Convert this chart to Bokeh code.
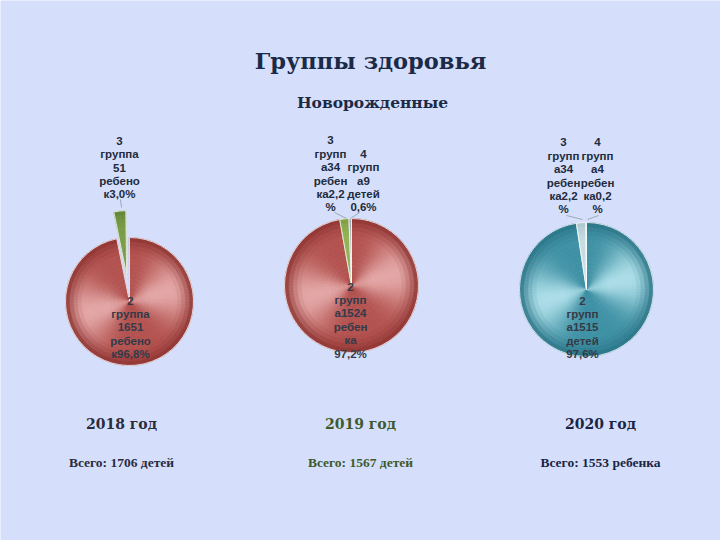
import numpy as np
from bokeh.plotting import figure
from bokeh.models import Range1d, ColumnDataSource
from bokeh.core.properties import value
from bokeh.embed import file_html
from bokeh.resources import INLINE

# ---------------- data ----------------
title = "Группы здоровья"
subtitle = "Новорожденные"
years = ["2018 год", "2019 год", "2020 год"]
totals = ["Всего: 1706 детей", "Всего: 1567 детей", "Всего: 1553 ребенка"]

shares_2018 = [96.8, 3.0]
shares_2019 = [97.2, 2.2, 0.6]
shares_2020 = [97.6, 2.2, 0.2]

labels_2018 = ["2\nгруппа\n1651\nребено\nк96,8%", "3\nгруппа\n51\nребено\nк3,0%"]
labels_2019 = ["2\nгрупп\nа1524\nребен\nка\n97,2%", "3\nгрупп\nа34\nребен\nка2,2\n%", "4\nгрупп\nа9\nдетей\n0,6%"]
labels_2020 = ["2\nгрупп\nа1515\nдетей\n97,6%", "3\nгрупп\nа34\nребен\nка2,2\n%", "4\nгрупп\nа4\nребен\nка0,2\n%"]

# ---------------- style / layout ----------------
W, H = 720, 540
BG = "#d5dffb"

def Y(y):
    return H - y

def hex2rgb(h):
    h = h.lstrip("#")
    return np.array([int(h[i:i + 2], 16) for i in (0, 2, 4)], dtype=float)

def to_hex(c):
    c = np.clip(np.round(c), 0, 255).astype(int)
    return "#%02x%02x%02x" % tuple(c)

# (rim, shadow, highlight) per slice style
RED = ("#8e3432", "#b3524f", "#e3a6a4")
TEAL = ("#2a7487", "#3f91a4", "#abdde7")
GREEN1 = ("#5f8436", "#7a9c48", "#a8c47a")
GREEN2 = ("#7d9e42", "#93b254", "#bcd48e")
GREY = ("#9aa4ac", "#b2bac0", "#d2d8dc")
PALE = ("#a9c6cd", "#c6dde2", "#e6f0f2")

pies = [
    dict(shares=shares_2018, labels=labels_2018, cx=129, cy=301, r=64,
         colors=[RED, GREEN1], explode=[0, 27]),
    dict(shares=shares_2019, labels=labels_2019, cx=351, cy=285, r=67,
         colors=[RED, GREEN2, GREY], explode=[0, 0, 0]),
    dict(shares=shares_2020, labels=labels_2020, cx=586, cy=289, r=67,
         colors=[TEAL, PALE, PALE], explode=[0, 0, 0]),
]

inner_pos = [(130, 294), (350, 280), (582, 294)]
outer_pos = [[(119, 200)], [(330, 213), (363, 213)], [(563, 215), (597, 215)]]
leaders = [
    [((120, 199), (121, 207))],
    [((334, 212), (346, 218)), ((359, 212), (350, 218))],
    [((566, 215), (582, 219)), ((598, 215), (587, 219))],
]

p = figure(width=W, height=H, output_backend="svg", toolbar_location=None,
           x_range=Range1d(0, W), y_range=Range1d(0, H), min_border=0,
           background_fill_color=BG, border_fill_color=BG, outline_line_color=None)
p.axis.visible = False
p.grid.visible = False

NR = 16         # radial shading rings
STEP = np.deg2rad(3.0)

for pie in pies:
    cum = np.concatenate([[0], np.cumsum(pie["shares"])]) / 100.0
    for i, share in enumerate(pie["shares"]):
        start = np.deg2rad(90 - 360 * cum[i + 1])
        end = np.deg2rad(90 - 360 * cum[i])
        mid = (start + end) / 2
        off = pie["explode"][i]
        cx = pie["cx"] + off * np.cos(mid)
        cy = Y(pie["cy"]) + off * np.sin(mid)
        rim, shadow, high = [hex2rgb(c) for c in pie["colors"][i]]
        R = pie["r"]
        nseg = max(1, int(np.ceil((end - start) / STEP)))
        edges = np.linspace(start, end, nseg + 1)
        xs, ys, ir, orr, sa, ea, cols = [], [], [], [], [], [], []
        for s in range(nseg):
            a0, a1 = edges[s], edges[s + 1]
            am = (a0 + a1) / 2
            f = 0.5 + 0.5 * np.cos(2 * (am - np.deg2rad(15)))
            base = shadow + (high - shadow) * (f ** 2.0)
            for k in range(NR):
                r0 = R * k / NR
                r1 = R * (k + 1) / NR
                rm = (r0 + r1) / 2 / R
                rimw = np.clip((rm - 0.7) / 0.3, 0, 1) ** 1.6
                cen = np.clip((0.35 - rm) / 0.35, 0, 1) * 0.3
                c = base + (rim - base) * rimw
                c = c + (shadow - c) * cen
                xs.append(cx); ys.append(cy); ir.append(r0); orr.append(min(r1 + 0.4, R))
                sa.append(a0); ea.append(a1 + 0.004); cols.append(to_hex(c))
        src = ColumnDataSource(dict(x=xs, y=ys, ir=ir, orr=orr, sa=sa, ea=ea, c=cols))
        p.annular_wedge(x="x", y="y", inner_radius="ir", outer_radius="orr",
                        start_angle="sa", end_angle="ea", fill_color="c",
                        line_color="c", line_width=0.5, source=src)
        p.wedge(x=cx, y=cy, radius=R, start_angle=start, end_angle=end,
                fill_alpha=0, line_color="white", line_width=1, line_alpha=0.75)

# leader lines
for group in leaders:
    for (a, b) in group:
        p.line(x=[a[0], b[0]], y=[Y(a[1]), Y(b[1])], line_color="#8d9aa6", line_width=0.8)

# slice labels
for j, pie in enumerate(pies):
    x0, y0 = inner_pos[j]
    p.text(x=[x0], y=[Y(y0)], text=[pie["labels"][0]], text_align="center",
           text_baseline="top", text_font=value("Liberation Sans"), text_font_style="bold",
           text_font_size="11.5px", text_color="#343a48", text_line_height=1.12)
    for m, (x1, y1) in enumerate(outer_pos[j]):
        p.text(x=[x1], y=[Y(y1)], text=[pie["labels"][m + 1]], text_align="center",
               text_baseline="bottom", text_font=value("Liberation Sans"), text_font_style="bold",
               text_font_size="11.5px", text_color="#222b3c", text_line_height=1.12)

# titles
p.text(x=[370], y=[Y(60)], text=[title], text_align="center", text_baseline="middle",
       text_font=value("DejaVu Serif"), text_font_style="bold", text_font_size="22.5px",
       text_color="#1b2a47")
p.text(x=[372], y=[Y(102)], text=[subtitle], text_align="center", text_baseline="middle",
       text_font=value("DejaVu Serif"), text_font_style="bold", text_font_size="15.5px",
       text_color="#1b2a47")

year_x = [121, 360, 600]
year_col = ["#2a2c3e", "#3d5a2e", "#1a2545"]
for j in range(3):
    p.text(x=[year_x[j]], y=[Y(423)], text=[years[j]], text_align="center", text_baseline="middle",
           text_font=value("DejaVu Serif"), text_font_style="bold", text_font_size="14px",
           text_color=year_col[j])
    p.text(x=[year_x[j]], y=[Y(462)], text=[totals[j]], text_align="center", text_baseline="middle",
           text_font=value("Liberation Serif"), text_font_style="bold", text_font_size="13.5px",
           text_color=year_col[j])

open("out.html", "w").write(file_html(p, INLINE))
